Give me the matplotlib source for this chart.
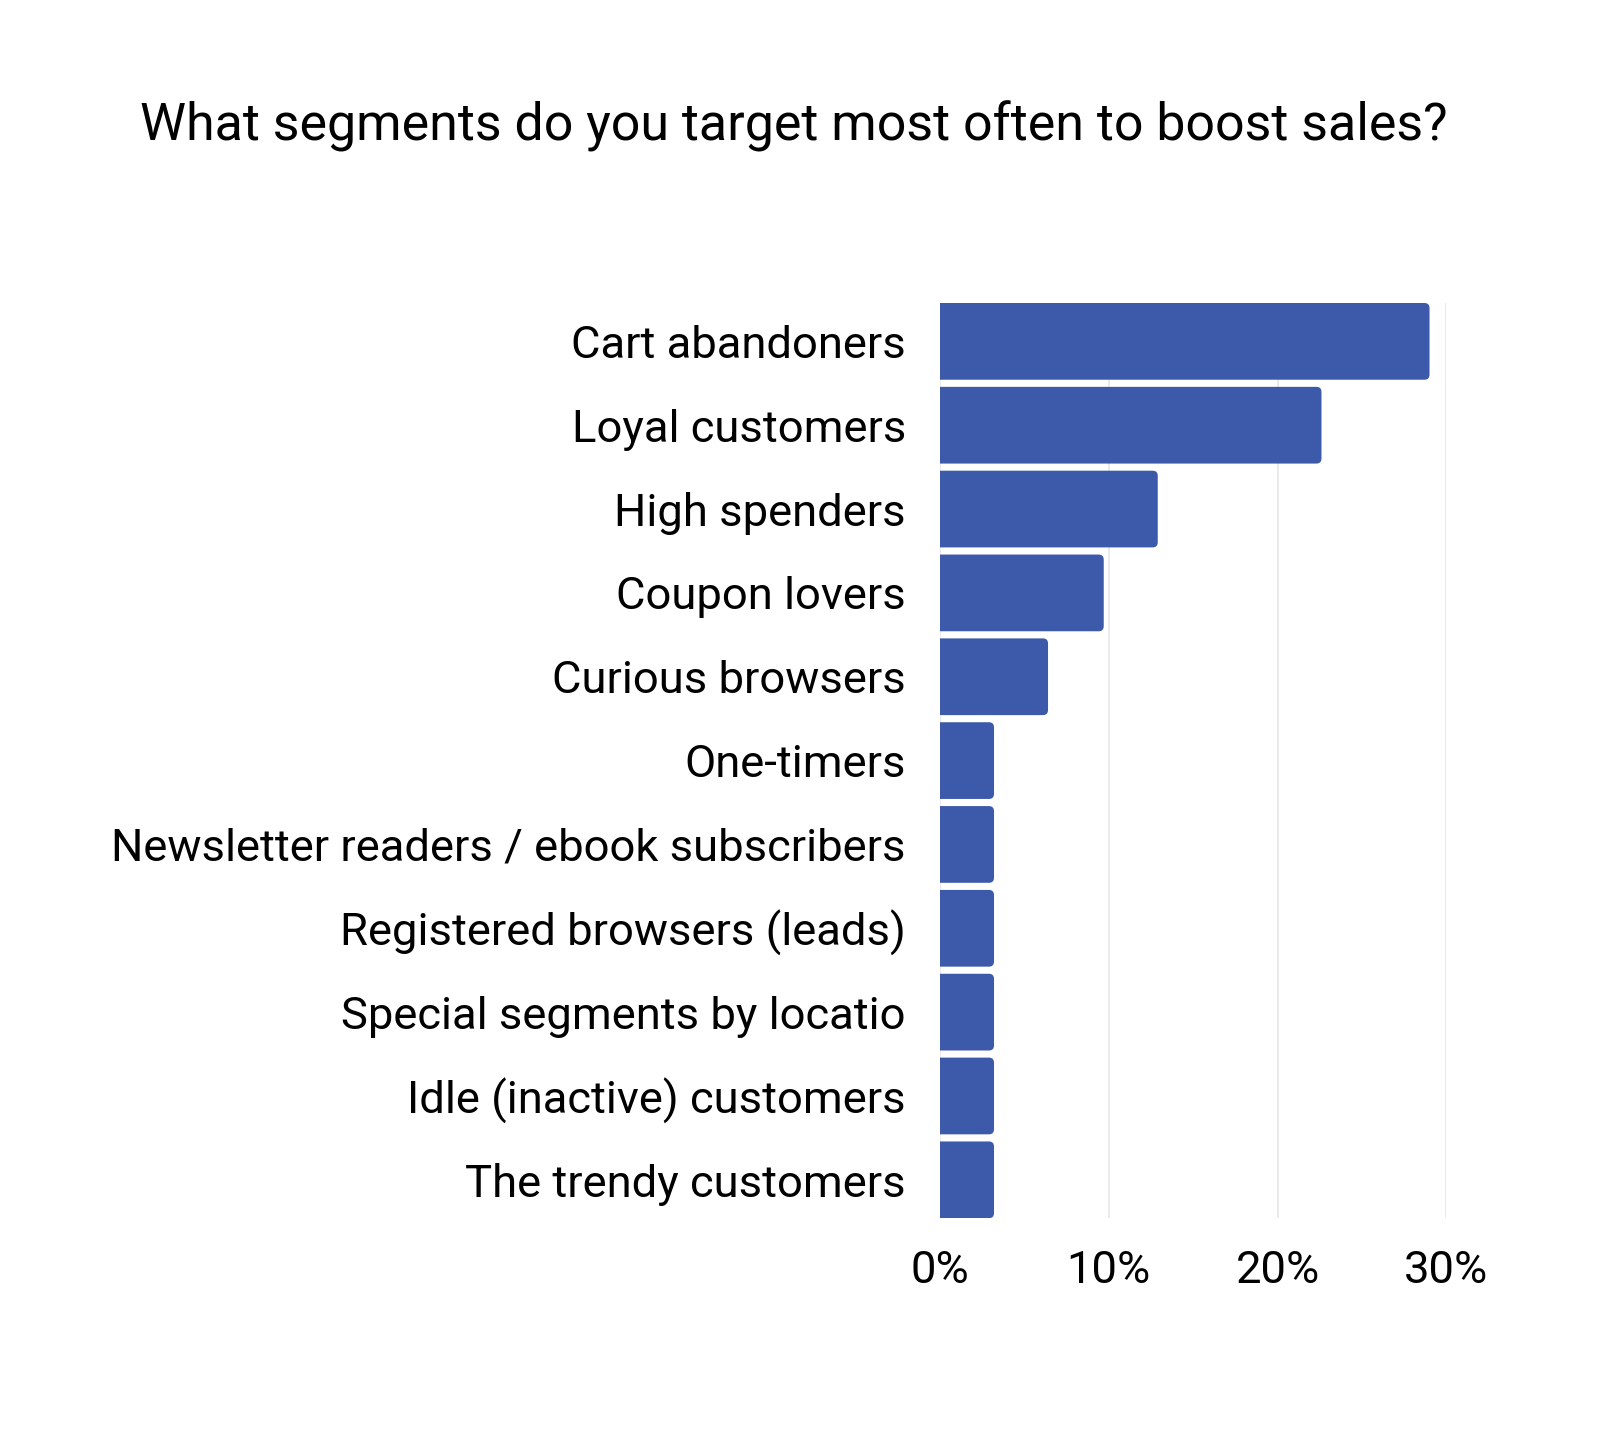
import numpy as np
import matplotlib.pyplot as plt
from matplotlib.patches import FancyBboxPatch

plt.rcParams['font.family'] = ['Roboto', 'DejaVu Sans']

# ------------------#
# Data
# ------------------#
segments = [
    "Cart abandoners",
    "Loyal customers",
    "High spenders",
    "Coupon lovers",
    "Curious browsers",
    "One-timers",
    "Newsletter readers / ebook subscribers",
    "Registered browsers (leads)",
    "Special segments by locatio",
    "Idle (inactive) customers",
    "The trendy customers",
]
shares = [29.0, 22.6, 12.9, 9.7, 6.4, 3.2, 3.2, 3.2, 3.2, 3.2, 3.2]
x_ticks = [0, 10, 20, 30]
x_tick_labels = ["0%", "10%", "20%", "30%"]

bar_color = "#3d59aa"
bar_height = 0.915

fig = plt.figure(figsize=(16, 14.34), dpi=100)
ax = fig.add_axes([0.5875, 0.1505, 0.3165, 0.6382])

ax.set_xlim(0, 30)
n = len(segments)
ax.set_ylim(n - 1 + bar_height / 2, -bar_height / 2)

# rounded bars: start left of 0 so only the right corners show rounding
# (aspect factor keeps the corner radius circular in pixels)
x_per_px = 30 / (0.3165 * 1600)
y_per_px = n / (0.6382 * 1434)
aspect = y_per_px / x_per_px
for i, val in enumerate(shares):
    patch = FancyBboxPatch((-0.5, i - bar_height / 2), val + 0.5, bar_height,
                           boxstyle="round,pad=0,rounding_size=0.3",
                           mutation_aspect=aspect,
                           facecolor=bar_color, edgecolor='none', zorder=3)
    ax.add_patch(patch)

ax.set_yticks(np.arange(n))
ax.set_yticklabels(segments, fontsize=32.7)

ax.set_xticks(x_ticks)
ax.set_xticklabels(x_tick_labels, fontsize=32.7)
ax.xaxis.grid(True, color="#e6e6e6", linewidth=1.2, zorder=0)

ax.tick_params(axis='both', length=0)
ax.tick_params(axis='y', pad=24.5)
ax.tick_params(axis='x', pad=23)
for spine in ax.spines.values():
    spine.set_visible(False)

fig.text(0.496, 0.912, "What segments do you target most often to boost sales?",
         ha='center', va='center', fontsize=37.4)

plt.savefig("out.png", dpi=100)
